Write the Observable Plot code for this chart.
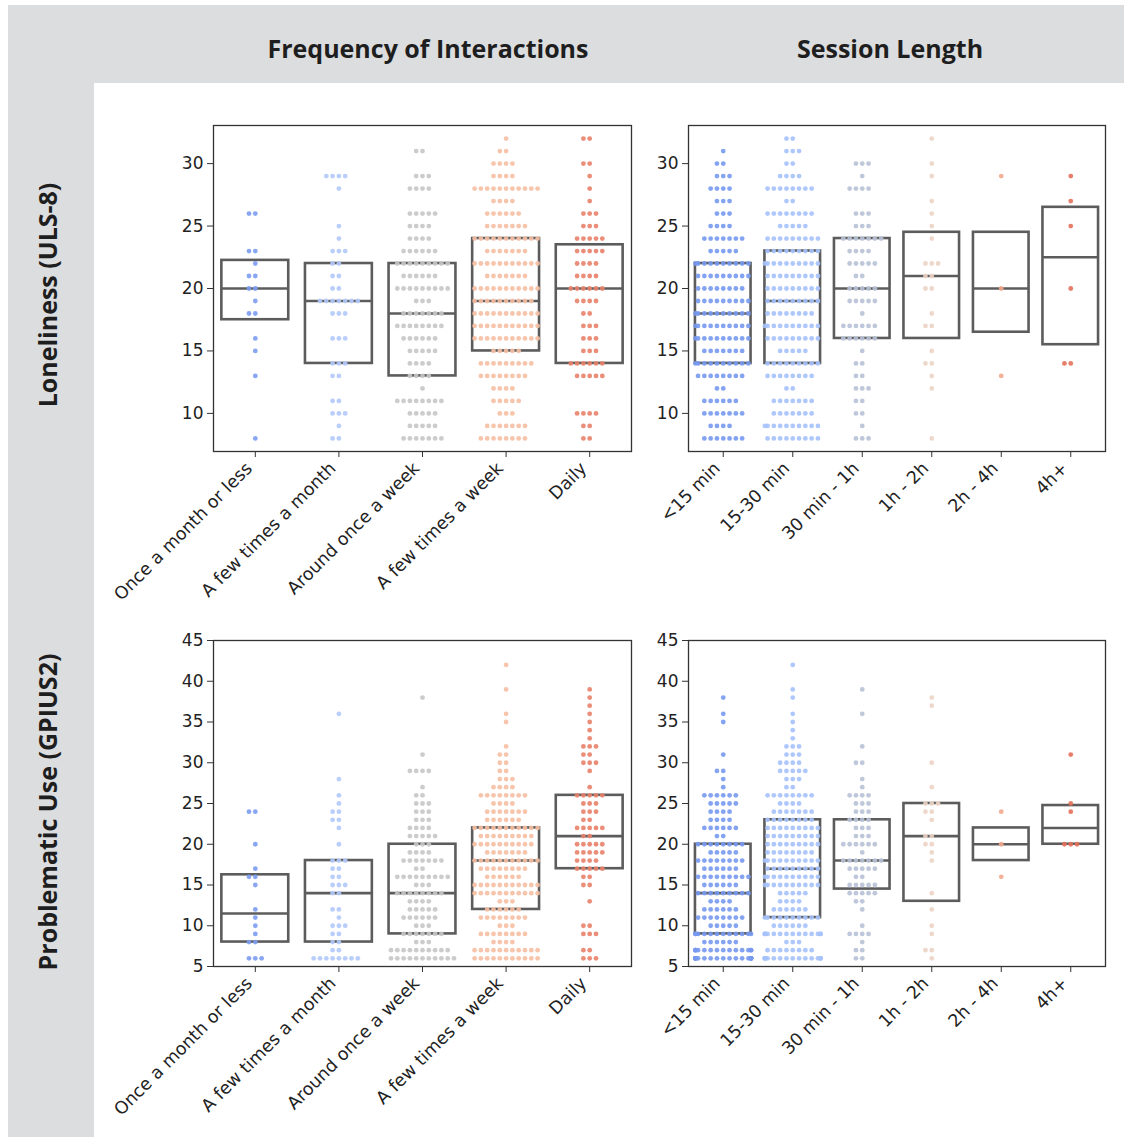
<!DOCTYPE html>
<html><head><meta charset="utf-8">
<script src="https://cdn.jsdelivr.net/npm/d3@7"></script>
<script src="https://cdn.jsdelivr.net/npm/@observablehq/plot@0.6"></script>
<style>
body{margin:0;background:#fff;width:1124px;height:1137px;position:relative;overflow:hidden;font-family:"DejaVu Sans",sans-serif;}
#topband{position:absolute;left:8px;top:5px;width:1116px;height:78px;background:#dcdddf;}
#leftband{position:absolute;left:8px;top:5px;width:86px;height:1132px;background:#dcdddf;}
.coltitle{position:absolute;top:48px;font:700 25px "Open Sans";color:#1e1e1e;transform:translate(-50%,-50%);white-space:nowrap}
.rowtitle{position:absolute;left:47px;font:700 25px "Open Sans";color:#1e1e1e;transform:translate(-50%,-50%) rotate(-90deg);white-space:nowrap}
.panel{position:absolute}
</style></head>
<body>
<div id="topband"></div><div id="leftband"></div>
<div class="coltitle" style="left:428px">Frequency of Interactions</div>
<div class="coltitle" style="left:890px">Session Length</div>
<div class="rowtitle" style="top:295px">Loneliness (ULS-8)</div>
<div class="rowtitle" style="top:812px">Problematic Use (GPIUS2)</div>
<div id="p1" class="panel"></div><div id="p2" class="panel"></div>
<div id="p3" class="panel"></div><div id="p4" class="panel"></div>
<script>
const freqCategories = ["Once a month or less","A few times a month","Around once a week","A few times a week","Daily"];
const sessionCategories = ["<15 min","15-30 min","30 min - 1h","1h - 2h","2h - 4h","4h+"];
const freqColors = ["#7b9cf1","#b1c9fb","#c6c6c6","#f6bfa3","#e9826a"];
const sessionColors = ["#7799f0","#a6c2fc","#b7c2d6","#ecd3c5","#f4a98c","#e3705a"];
const lonelinessTicks = [10,15,20,25,30];
const problematicTicks = [5,10,15,20,25,30,35,40,45];

// [score, number of respondents] per category
const lonelinessByFrequency = [
 [[26,2],[23,2],[22,1],[21,2],[20,2],[19,1],[18,2],[16,1],[15,1],[13,1],[8,1]],
 [[29,4],[28,1],[25,1],[24,1],[23,3],[22,2],[21,2],[20,2],[19,7],[18,3],[16,3],[14,3],[13,2],[11,2],[10,3],[9,1],[8,2]],
 [[31,2],[29,3],[28,4],[26,5],[25,4],[24,4],[23,6],[22,9],[21,6],[20,9],[19,3],[18,7],[17,8],[16,6],[15,5],[14,4],[13,4],[12,1],[11,8],[10,5],[9,5],[8,7]],
 [[32,1],[31,2],[30,4],[29,4],[28,11],[27,4],[26,6],[25,7],[24,11],[23,7],[22,11],[21,7],[20,11],[19,10],[18,11],[17,11],[16,11],[15,5],[14,9],[13,8],[12,4],[11,5],[10,3],[9,7],[8,8]],
 [[32,2],[30,2],[29,1],[28,1],[27,1],[26,3],[25,3],[24,5],[23,5],[22,4],[21,4],[20,6],[19,4],[18,2],[17,3],[16,3],[15,3],[14,6],[13,5],[10,4],[9,2],[8,2]]
];
const lonelinessBySession = [
 [[31,1],[30,2],[29,3],[28,4],[27,3],[26,3],[25,4],[24,7],[23,5],[22,10],[21,9],[20,8],[19,9],[18,10],[17,10],[16,10],[15,7],[14,10],[13,8],[12,2],[11,6],[10,7],[9,4],[8,7]],
 [[32,2],[31,3],[30,2],[29,4],[28,8],[27,2],[26,8],[25,5],[24,9],[23,9],[22,10],[21,9],[20,9],[19,9],[18,8],[17,10],[16,9],[15,5],[14,9],[13,8],[12,2],[11,7],[10,7],[9,10],[8,9]],
 [[30,3],[29,1],[28,4],[26,3],[25,3],[24,7],[23,4],[22,5],[21,2],[20,5],[19,5],[18,1],[17,6],[16,6],[15,1],[14,2],[13,2],[12,3],[11,2],[10,2],[9,1],[8,3]],
 [[32,1],[30,1],[29,1],[27,1],[26,1],[25,1],[24,1],[22,3],[21,2],[20,2],[18,1],[17,2],[15,1],[14,2],[13,1],[12,1],[8,1]],
 [[29,1],[20,1],[13,1]],
 [[29,1],[27,1],[25,1],[20,1],[14,2]]
];
const problematicByFrequency = [
 [[24,2],[20,1],[17,1],[16,2],[15,1],[12,1],[11,1],[10,1],[9,1],[8,2],[6,3]],
 [[36,1],[28,1],[26,1],[25,1],[24,2],[23,2],[22,1],[20,1],[18,3],[17,2],[16,2],[15,3],[14,2],[12,2],[11,1],[10,3],[9,2],[8,2],[7,2],[6,8]],
 [[38,1],[31,1],[29,4],[27,1],[26,2],[25,3],[24,3],[23,3],[22,4],[21,5],[20,3],[19,4],[18,7],[17,2],[16,9],[15,3],[14,8],[13,4],[12,5],[11,6],[10,3],[9,7],[8,3],[7,10],[6,11]],
 [[42,1],[39,1],[36,1],[35,1],[32,1],[31,2],[30,2],[29,2],[28,3],[27,4],[26,8],[25,4],[24,7],[23,6],[22,11],[21,9],[20,10],[19,7],[18,11],[17,8],[16,6],[15,11],[14,11],[13,3],[12,6],[11,8],[10,3],[9,8],[8,4],[7,11],[6,11]],
 [[39,1],[38,1],[37,1],[36,1],[35,1],[34,1],[33,1],[32,3],[31,2],[30,3],[29,1],[27,1],[26,5],[25,3],[24,3],[23,2],[22,5],[21,2],[20,5],[19,5],[18,4],[17,5],[16,2],[15,2],[13,1],[10,2],[9,3],[7,2],[6,3]]
];
const problematicBySession = [
 [[38,1],[36,1],[35,1],[31,1],[29,2],[28,1],[27,1],[26,6],[25,5],[24,4],[23,4],[22,6],[21,2],[20,8],[19,5],[18,8],[17,6],[16,9],[15,6],[14,9],[13,4],[12,6],[11,8],[10,5],[9,12],[8,6],[7,14],[6,20]],
 [[42,1],[39,1],[38,1],[36,1],[35,1],[34,1],[33,1],[32,3],[31,3],[30,4],[29,5],[28,3],[27,2],[26,8],[25,4],[24,7],[23,8],[22,9],[21,9],[20,9],[19,8],[18,10],[17,9],[16,10],[15,10],[14,5],[13,4],[12,6],[11,10],[10,6],[9,14],[8,3],[7,8],[6,16]],
 [[39,1],[36,1],[32,1],[30,2],[28,1],[27,1],[26,4],[25,3],[24,3],[23,4],[22,3],[21,3],[20,6],[19,1],[18,7],[17,5],[16,2],[15,5],[14,5],[13,2],[12,1],[10,1],[9,4],[8,1],[7,2],[6,2]],
 [[38,1],[37,1],[30,1],[27,1],[25,3],[24,2],[23,1],[21,2],[20,2],[19,1],[18,1],[14,1],[12,1],[10,1],[9,1],[7,2],[6,1]],
 [[24,1],[20,1],[16,1]],
 [[31,1],[25,1],[24,1],[20,3]]
];

function panel(el, cats, groups, colors, yDomain, yTicks, frameW, frameH, left, top) {
  const mL = 63, mR = 10, mT = 10, mB = 175;
  const n = cats.length;
  const band = frameW / n;
  const half = 0.4 * band;
  const spacing = 6.3;
  const dots = [], boxes = [];
  groups.forEach((g, i) => {
    const vals = [];
    g.forEach(([v, c]) => {
      for (let k = 0; k < c; k++) {
        let off = k === 0 ? 0 : (k % 2 ? -Math.ceil(k / 2) : k / 2) * spacing;
        off = Math.max(-half, Math.min(half, off));
        dots.push({x: i + off / band, y: v, c: i});
        vals.push(v);
      }
    });
    vals.sort(d3.ascending);
    boxes.push({x1: i - 0.4, x2: i + 0.4,
      q1: d3.quantileSorted(vals, 0.25), med: d3.quantileSorted(vals, 0.5), q3: d3.quantileSorted(vals, 0.75)});
  });
  const svg = Plot.plot({
    width: mL + frameW + mR, height: mT + frameH + mB,
    marginLeft: mL, marginRight: mR, marginTop: mT, marginBottom: mB,
    x: {domain: [-0.5, n - 0.5], axis: null},
    y: {domain: yDomain, axis: null},
    color: {type: "ordinal", domain: d3.range(n), range: colors},
    style: {fontFamily: "DejaVu Sans", fontSize: "17px", color: "#222", background: "transparent", overflow: "visible"},
    marks: [
      Plot.rect(boxes, {x1: "x1", x2: "x2", y1: "q1", y2: "q3", fill: "none", stroke: "#5c5c5c", strokeWidth: 2.6}),
      Plot.link(boxes, {x1: "x1", x2: "x2", y1: "med", y2: "med", stroke: "#5c5c5c", strokeWidth: 2.6}),
      Plot.dot(dots, {x: "x", y: "y", r: 2.4, fill: "c", fillOpacity: 0.9, stroke: "none"}),
      Plot.axisY(yTicks, {tickSize: 6, tickPadding: 4, fontSize: 17, stroke: "#333"}),
      Plot.axisX(d3.range(n), {tickSize: 6, tickFormat: () => "", stroke: "#333"}),
      Plot.axisX(d3.range(n), {tickFormat: i => cats[i], tickRotate: -45, tickSize: 0, tickPadding: 14, dx: -6, fontSize: 17.5}),
      Plot.frame({stroke: "#333", strokeWidth: 1.3})
    ]
  });
  const div = document.getElementById(el);
  div.style.left = (left - mL) + "px";
  div.style.top = (top - mT) + "px";
  div.appendChild(svg);
}
panel("p1", freqCategories, lonelinessByFrequency, freqColors, [6.95, 33.05], lonelinessTicks, 418, 326, 213, 125);
panel("p2", sessionCategories, lonelinessBySession, sessionColors, [6.95, 33.05], lonelinessTicks, 417, 326, 688, 125);
panel("p3", freqCategories, problematicByFrequency, freqColors, [5, 45], problematicTicks, 418, 326, 213, 640);
panel("p4", sessionCategories, problematicBySession, sessionColors, [5, 45], problematicTicks, 417, 326, 688, 640);
</script>
</body></html>
